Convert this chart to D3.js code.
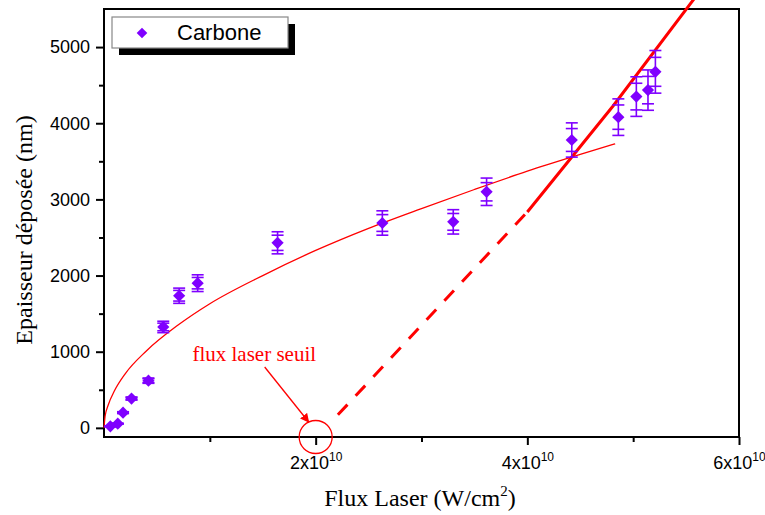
<!DOCTYPE html>
<html>
<head>
<meta charset="utf-8">
<script src="https://cdn.jsdelivr.net/npm/d3@7"></script>
<style>
	body { margin: 0; background: #fff; }
	svg { display: block; }
</style>
</head>
<body>
<svg id="chart" width="765" height="515"></svg>
<script>
// measured points (flux in W/cm2, thickness in nm)
const flux = [0.06e10, 0.13e10, 0.18e10, 0.26e10, 0.42e10, 0.56e10, 0.71e10, 0.885e10, 1.64e10,
	2.63e10, 3.30e10, 3.615e10, 4.42e10, 4.86e10, 5.03e10, 5.14e10, 5.21e10];
const thickness = [20, 55, 200, 385, 620, 1325, 1735, 1900, 2430, 2690, 2705, 3100, 3780, 4080, 4350, 4435, 4675];
const errOuter = [5, 5, 12, 20, 35, 75, 100, 110, 145, 160, 160, 180, 225, 240, 260, 265, 280];
const errInner = [3, 3, 8, 15, 25, 50, 70, 75, 100, 110, 110, 120, 150, 160, 175, 180, 190];

// thin fitted curve
const fitFlux = [0, 0.01e10, 0.04e10, 0.1e10, 0.2e10, 0.4e10, 0.7e10, 1.0e10, 1.5e10, 2.0e10, 2.5e10,
	3.0e10, 3.5e10, 4.0e10, 4.5e10, 4.83e10];
const fitThick = [0, 150, 300, 490, 710, 1010, 1350, 1630, 2000, 2330, 2620, 2880, 3130, 3370, 3590, 3730];

// threshold line: dashed part then solid part
const dashFlux = [2.21e10, 4.0e10];
const dashThick = [171, 2835];
const solidFlux = [4.0e10, 4.81e10, 5.62e10];
const solidThick = [2835, 4226, 5715];

const xMajor = [2e10, 4e10, 6e10];
const xMinor = [1e10, 3e10, 5e10];
const yMajor = [0, 1000, 2000, 3000, 4000, 5000];
const yMinor = [500, 1500, 2500, 3500, 4500];

const seriesName = "Carbone";
const thresholdLabel = "flux laser seuil";
const thresholdFlux = 2e10;

const purple = "#7f00ff";
const red = "#ff0000";

const svg = d3.select("#chart");
const x = d3.scaleLinear().domain([0, 6e10]).range([104, 739]);
const y = d3.scaleLinear().domain([-120, 5500]).range([437, 9]);

// axes
const sansFont = "'Liberation Sans', Arial, sans-serif";
const serifFont = "'Liberation Serif', 'Times New Roman', serif";

const yAxis = svg.append("g").attr("transform", `translate(${x(0)},0)`)
	.call(d3.axisLeft(y).tickValues(yMajor).tickSize(8).tickPadding(6).tickFormat(d3.format("d")));
svg.append("g").attr("transform", `translate(${x(0)},0)`)
	.call(d3.axisLeft(y).tickValues(yMinor).tickSize(5).tickFormat(""));

const xAxis = svg.append("g").attr("transform", `translate(0,${y.range()[0]})`)
	.call(d3.axisBottom(x).tickValues(xMajor).tickSize(8).tickPadding(8).tickFormat(""));
svg.append("g").attr("transform", `translate(0,${y.range()[0]})`)
	.call(d3.axisBottom(x).tickValues(xMinor).tickSize(5).tickFormat(""));

svg.selectAll(".domain").remove();
svg.selectAll(".tick line").attr("stroke", "#000").attr("stroke-width", 2);
yAxis.selectAll("text").attr("font-family", sansFont).attr("font-size", 18).attr("fill", "#000");

xAxis.selectAll(".tick text")
	.attr("font-family", sansFont).attr("font-size", 18).attr("fill", "#000")
	.attr("dy", "0.9em")
	.each(function (d) {
		const t = d3.select(this);
		t.append("tspan").text(`${d / 1e10}x10`);
		t.append("tspan").attr("font-size", 12).attr("dy", -8).text("10");
	});

// frame
svg.append("rect")
	.attr("x", x(0)).attr("y", y.range()[1])
	.attr("width", x(6e10) - x(0)).attr("height", y.range()[0] - y.range()[1])
	.attr("fill", "none").attr("stroke", "#000").attr("stroke-width", 2);

// axis titles
svg.append("text")
	.attr("transform", `translate(32,230) rotate(-90)`)
	.attr("text-anchor", "middle")
	.attr("font-family", serifFont).attr("font-size", 24)
	.text("Epaisseur déposée (nm)");

const xt = svg.append("text")
	.attr("x", 420).attr("y", 506)
	.attr("text-anchor", "middle")
	.attr("font-family", serifFont).attr("font-size", 24);
xt.append("tspan").text("Flux Laser (W/cm");
xt.append("tspan").attr("font-size", 15).attr("dy", -10).text("2");
xt.append("tspan").attr("dy", 10).text(")");

// curves
const smooth = d3.line().x((d) => x(d[0])).y((d) => y(d[1])).curve(d3.curveMonotoneX);
const straight = d3.line().x((d) => x(d[0])).y((d) => y(d[1]));

svg.append("path")
	.datum(d3.zip(fitFlux, fitThick))
	.attr("d", smooth)
	.attr("fill", "none").attr("stroke", red).attr("stroke-width", 1.3);

svg.append("path")
	.datum(d3.zip(dashFlux, dashThick))
	.attr("d", straight)
	.attr("fill", "none").attr("stroke", red).attr("stroke-width", 3)
	.attr("stroke-dasharray", "14,12");

svg.append("path")
	.datum(d3.zip(solidFlux, solidThick))
	.attr("d", straight)
	.attr("fill", "none").attr("stroke", red).attr("stroke-width", 3);

// error bars
const points = flux.map((f, i) => ({ f: f, t: thickness[i], eo: errOuter[i], ei: errInner[i] }));
const bars = svg.append("g").attr("stroke", purple).attr("stroke-width", 1.6);
points.forEach((p) => {
	const cx = x(p.f);
	bars.append("line").attr("x1", cx).attr("x2", cx).attr("y1", y(p.t + p.eo)).attr("y2", y(p.t - p.eo));
	for (const v of [p.t + p.eo, p.t - p.eo, p.t + p.ei, p.t - p.ei]) {
		bars.append("line").attr("x1", cx - 6).attr("x2", cx + 6).attr("y1", y(v)).attr("y2", y(v));
	}
});

// markers
const diamond = d3.symbol().type(d3.symbolDiamond2).size(95);
svg.append("g").selectAll("path")
	.data(points)
	.join("path")
	.attr("transform", (d) => `translate(${x(d.f)},${y(d.t)})`)
	.attr("d", diamond)
	.attr("fill", purple);

// threshold annotation
const cx0 = x(thresholdFlux), cy0 = y.range()[0];
svg.append("circle")
	.attr("cx", cx0).attr("cy", cy0).attr("r", 16.5)
	.attr("fill", "none").attr("stroke", red).attr("stroke-width", 1.3);

svg.append("defs").append("marker")
	.attr("id", "arrow").attr("viewBox", "0 0 10 10")
	.attr("refX", 9).attr("refY", 5)
	.attr("markerWidth", 9).attr("markerHeight", 9)
	.attr("markerUnits", "userSpaceOnUse")
	.attr("orient", "auto")
	.append("path").attr("d", "M0,0 L10,5 L0,10 z").attr("fill", red);

svg.append("line")
	.attr("x1", cx0 - 51).attr("y1", cy0 - 70)
	.attr("x2", cx0 - 7).attr("y2", cy0 - 15)
	.attr("stroke", red).attr("stroke-width", 1.3)
	.attr("marker-end", "url(#arrow)");

svg.append("text")
	.attr("x", x(1.42e10)).attr("y", 361)
	.attr("text-anchor", "middle")
	.attr("font-family", serifFont).attr("font-size", 21)
	.attr("fill", red)
	.text(thresholdLabel);

// legend
const lg = svg.append("g");
lg.append("rect").attr("x", 119).attr("y", 24).attr("width", 176).attr("height", 31).attr("fill", "#000");
lg.append("rect").attr("x", 112).attr("y", 17).attr("width", 176).attr("height", 31)
	.attr("fill", "#fff").attr("stroke", "#888").attr("stroke-width", 1.2);
lg.append("path")
	.attr("transform", "translate(142,33)")
	.attr("d", d3.symbol().type(d3.symbolDiamond2).size(72))
	.attr("fill", purple);
lg.append("text")
	.attr("x", 177).attr("y", 40)
	.attr("font-family", sansFont).attr("font-size", 22)
	.text(seriesName);
</script>
</body>
</html>
